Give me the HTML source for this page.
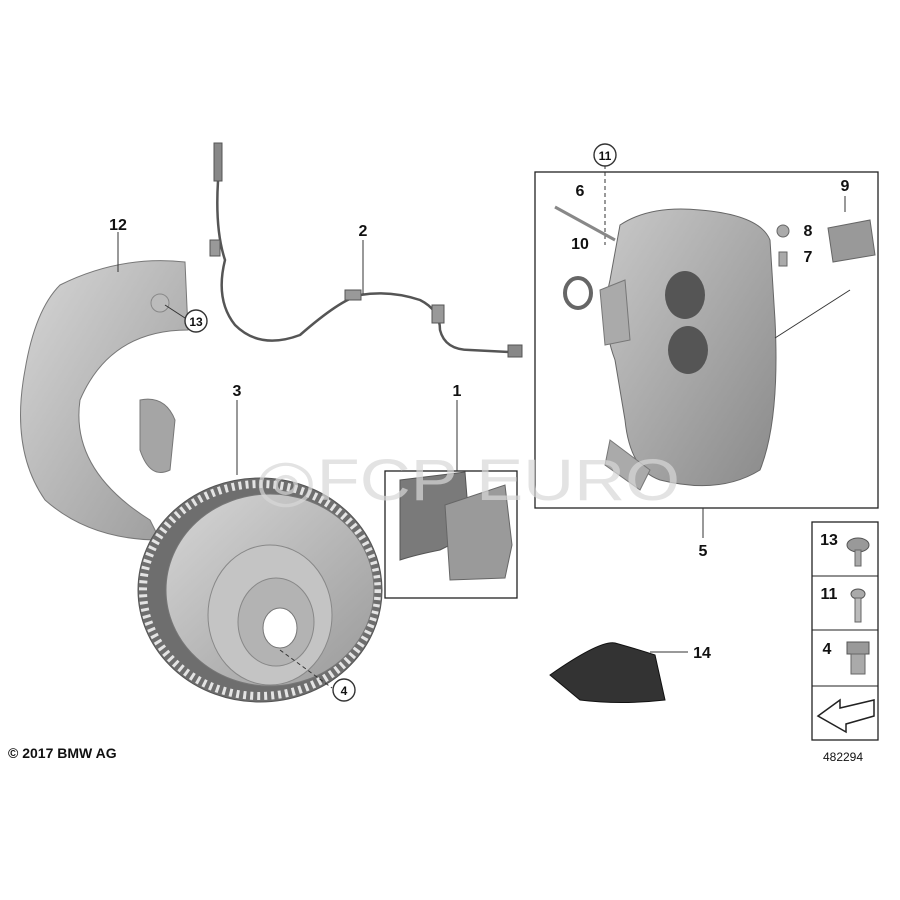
<!DOCTYPE html>
<html><head><meta charset="utf-8"><style>
html,body{margin:0;padding:0;background:#fff;}
svg{display:block;}
text{font-family:"Liberation Sans",sans-serif;font-weight:bold;fill:#111;}
</style></head><body>
<svg width="900" height="900" viewBox="0 0 900 900" xmlns="http://www.w3.org/2000/svg">
<defs>
<linearGradient id="g1" x1="0" y1="0" x2="1" y2="1"><stop offset="0" stop-color="#d6d6d6"/><stop offset="1" stop-color="#9a9a9a"/></linearGradient>
<linearGradient id="g2" x1="0" y1="0" x2="1" y2="1"><stop offset="0" stop-color="#c8c8c8"/><stop offset="1" stop-color="#8a8a8a"/></linearGradient>
</defs>
<rect width="900" height="900" fill="#fff"/>

<!-- shield 12 -->
<path d="M60,285 Q120,255 185,262 L188,330 Q110,330 80,400 Q70,470 150,520 L160,540 Q90,540 45,500 Q10,450 25,370 Q35,310 60,285 Z" fill="url(#g1)" stroke="#777" stroke-width="1"/>
<path d="M140,400 Q165,395 175,420 L170,470 Q150,480 140,450 Z" fill="#a5a5a5" stroke="#777"/>
<circle cx="160" cy="303" r="9" fill="#bbb" stroke="#888"/>
<line x1="118" y1="232" x2="118" y2="272" stroke="#333"/>
<text x="118" y="230" font-size="16" text-anchor="middle">12</text>
<line x1="165" y1="305" x2="185" y2="318" stroke="#333"/>
<circle cx="196" cy="321" r="11" fill="#fff" stroke="#333" stroke-width="1.4"/>
<text x="196" y="326" font-size="12" text-anchor="middle">13</text>

<!-- sensor wire 2 -->
<rect x="214" y="143" width="8" height="38" fill="#888" stroke="#555"/>
<path d="M218,181 Q215,230 225,260 Q215,300 235,325 Q260,350 300,335 Q340,300 360,295 Q390,290 420,300 Q440,310 440,330 Q445,350 470,350 L510,352" fill="none" stroke="#555" stroke-width="2.5"/>
<rect x="210" y="240" width="10" height="16" fill="#999" stroke="#555"/>
<rect x="345" y="290" width="16" height="10" fill="#999" stroke="#555"/>
<rect x="432" y="305" width="12" height="18" fill="#999" stroke="#555"/>
<rect x="508" y="345" width="14" height="12" fill="#888" stroke="#555"/>
<line x1="363" y1="240" x2="363" y2="294" stroke="#333"/>
<text x="363" y="236" font-size="16" text-anchor="middle">2</text>

<!-- rotor 3 -->
<line x1="237" y1="400" x2="237" y2="475" stroke="#333"/>
<text x="237" y="396" font-size="16" text-anchor="middle">3</text>
<ellipse cx="260" cy="590" rx="122" ry="112" fill="#6e6e6e" stroke="#555"/>
<ellipse cx="260" cy="590" rx="117" ry="106" fill="none" stroke="#e4e4e4" stroke-width="8" stroke-dasharray="3 4"/>
<ellipse cx="270" cy="590" rx="104" ry="96" fill="url(#g1)" stroke="#777"/>
<ellipse cx="270" cy="615" rx="62" ry="70" fill="#c4c4c4" stroke="#888"/>
<ellipse cx="276" cy="622" rx="38" ry="44" fill="#b3b3b3" stroke="#888"/>
<ellipse cx="280" cy="628" rx="17" ry="20" fill="#fff" stroke="#777"/>
<line x1="280" y1="650" x2="332" y2="688" stroke="#333" stroke-dasharray="4 3"/>
<circle cx="344" cy="690" r="11" fill="#fff" stroke="#333" stroke-width="1.4"/>
<text x="344" y="695" font-size="12" text-anchor="middle">4</text>

<!-- pads 1 -->
<rect x="385" y="471" width="132" height="127" fill="none" stroke="#222" stroke-width="1.3"/>
<line x1="457" y1="400" x2="457" y2="471" stroke="#333"/>
<text x="457" y="396" font-size="16" text-anchor="middle">1</text>
<path d="M400,480 L465,472 L470,535 L440,550 Q415,555 400,560 Z" fill="#7a7a7a" stroke="#555"/>
<path d="M445,505 L505,485 L512,545 L505,578 L450,580 Z" fill="#9a9a9a" stroke="#666"/>

<!-- caliper box 5 -->
<rect x="535" y="172" width="343" height="336" fill="none" stroke="#222" stroke-width="1.3"/>
<line x1="703" y1="508" x2="703" y2="538" stroke="#333"/>
<text x="703" y="556" font-size="16" text-anchor="middle">5</text>
<path d="M620,225 Q650,205 700,210 Q760,215 770,240 L775,320 Q780,420 760,470 Q720,495 660,480 Q630,470 625,420 L615,360 Q600,320 610,280 Z" fill="url(#g2)" stroke="#666"/>
<path d="M600,290 L625,280 L630,340 L605,345 Z" fill="#aaa" stroke="#777"/>
<path d="M610,440 L650,470 L640,490 L605,465 Z" fill="#aaa" stroke="#777"/>
<ellipse cx="685" cy="295" rx="20" ry="24" fill="#555"/>
<ellipse cx="688" cy="350" rx="20" ry="24" fill="#555"/>
<line x1="605" y1="165" x2="605" y2="245" stroke="#333" stroke-dasharray="4 3"/>
<circle cx="605" cy="155" r="11" fill="#fff" stroke="#333" stroke-width="1.4"/>
<text x="605" y="160" font-size="12" text-anchor="middle">11</text>
<text x="580" y="196" font-size="16" text-anchor="middle">6</text>
<line x1="555" y1="207" x2="615" y2="240" stroke="#888" stroke-width="3"/>
<text x="580" y="249" font-size="16" text-anchor="middle">10</text>
<ellipse cx="578" cy="293" rx="13" ry="15" fill="none" stroke="#666" stroke-width="4"/>
<text x="808" y="236" font-size="16" text-anchor="middle">8</text>
<text x="808" y="262" font-size="16" text-anchor="middle">7</text>
<circle cx="783" cy="231" r="6" fill="#aaa" stroke="#666"/>
<rect x="779" y="252" width="8" height="14" fill="#aaa" stroke="#666"/>
<text x="845" y="191" font-size="16" text-anchor="middle">9</text>
<line x1="845" y1="196" x2="845" y2="212" stroke="#333"/>
<path d="M828,228 L870,220 L875,255 L833,262 Z" fill="#999" stroke="#666"/>
<line x1="850" y1="290" x2="775" y2="338" stroke="#333"/>

<!-- watermark -->
<text x="255" y="500" font-size="58" textLength="425" lengthAdjust="spacingAndGlyphs" style="fill:#d8d8d8;font-weight:normal" opacity="0.7">◎FCP EURO</text>

<!-- fastener panel -->
<rect x="812" y="522" width="66" height="218" fill="#fff" stroke="#222" stroke-width="1.3"/>
<line x1="812" y1="576" x2="878" y2="576" stroke="#222"/>
<line x1="812" y1="630" x2="878" y2="630" stroke="#222"/>
<line x1="812" y1="686" x2="878" y2="686" stroke="#222"/>
<text x="829" y="545" font-size="16" text-anchor="middle">13</text>
<text x="829" y="599" font-size="16" text-anchor="middle">11</text>
<text x="827" y="654" font-size="16" text-anchor="middle">4</text>
<ellipse cx="858" cy="545" rx="11" ry="7" fill="#999" stroke="#555"/><rect x="855" y="550" width="6" height="16" fill="#aaa" stroke="#666"/>
<ellipse cx="858" cy="594" rx="7" ry="5" fill="#aaa" stroke="#555"/><rect x="855" y="598" width="6" height="24" fill="#bbb" stroke="#666"/>
<rect x="847" y="642" width="22" height="12" fill="#999" stroke="#555"/><rect x="851" y="654" width="14" height="20" fill="#aaa" stroke="#666"/>
<path d="M818,716 L840,700 L840,708 L874,700 L874,716 L846,724 L846,732 Z" fill="#fff" stroke="#222" stroke-width="1.5"/>
<text x="843" y="761" font-size="12" style="font-weight:normal" text-anchor="middle">482294</text>

<!-- pad 14 -->
<path d="M550,675 Q600,640 615,643 Q640,650 655,655 L665,700 Q620,705 580,700 Z" fill="#333" stroke="#111"/>
<line x1="650" y1="652" x2="688" y2="652" stroke="#333"/>
<text x="702" y="658" font-size="16" text-anchor="middle">14</text>

<text x="8" y="758" font-size="14">© 2017 BMW AG</text>
</svg>
</body></html>
